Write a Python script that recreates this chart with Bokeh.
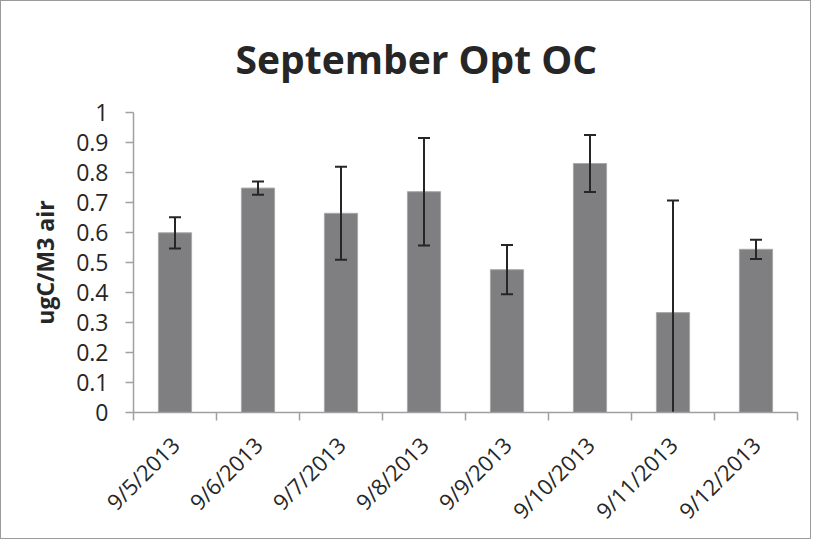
import math
from bokeh.plotting import figure
from bokeh.models import Range1d, FixedTicker, ColumnDataSource
from bokeh.embed import file_html
from bokeh.resources import INLINE

# ---- data ----
dates = ["9/5/2013", "9/6/2013", "9/7/2013", "9/8/2013",
         "9/9/2013", "9/10/2013", "9/11/2013", "9/12/2013"]
oc_values = [0.599, 0.748, 0.664, 0.736, 0.476, 0.830, 0.333, 0.544]
oc_errors = [0.052, 0.022, 0.155, 0.179, 0.082, 0.095, 0.374, 0.032]
y_ticks = [0, 0.1, 0.2, 0.3, 0.4, 0.5, 0.6, 0.7, 0.8, 0.9, 1]
y_tick_labels = ["0", "0.1", "0.2", "0.3", "0.4", "0.5", "0.6", "0.7", "0.8", "0.9", "1"]

n = len(dates)
xs = [i + 0.5 for i in range(n)]
upper = [v + e for v, e in zip(oc_values, oc_errors)]
lower = [v - e for v, e in zip(oc_values, oc_errors)]

src = ColumnDataSource(dict(x=xs, date=dates, top=oc_values, upper=upper, lower=lower))

FONT = "Open Sans"
TEXT = "#262626"
AXIS = "#a0a0a0"

p = figure(frame_width=664, frame_height=300, output_backend="svg",
           toolbar_location=None,
           x_range=Range1d(0, n), y_range=Range1d(0, 1),
           min_border_left=132, min_border_right=13, min_border_top=111,
           min_border_bottom=125)
p.styles = {"border": "1px solid #9a9a9a"}
p.outline_line_color = None
p.xgrid.visible = False
p.ygrid.visible = False

p.title.text = "September Opt OC"
p.title.text_font = FONT
p.title.text_font_size = "39px"
p.title.text_font_style = "bold"
p.title.text_color = TEXT
p.title.align = "left"
p.title.offset = 102
p.title.standoff = 55

# bars
p.vbar(x="x", width=0.4, top="top", bottom=0, source=src,
       fill_color="#7f7f82", line_color="#a8a8a8", line_width=1)
# error bars
p.segment(x0="x", y0="lower", x1="x", y1="upper", source=src,
          line_color=TEXT, line_width=2)
p.scatter(x="x", y="upper", source=src, marker="dash", size=12,
          line_color=TEXT, line_width=2)
p.scatter(x="x", y="lower", source=src, marker="dash", size=12,
          line_color=TEXT, line_width=2)

# x axis: ticks at category edges, labels at centers
xa = p.xaxis[0]
xa.ticker = FixedTicker(ticks=xs, minor_ticks=list(range(n + 1)))
xa.major_label_overrides = {x: d for x, d in zip(xs, dates)}
xa.major_label_orientation = math.pi / 4
xa.major_tick_line_color = None
xa.major_tick_out = 8
xa.minor_tick_line_color = AXIS
xa.minor_tick_line_width = 1.5
xa.minor_tick_out = 8
xa.minor_tick_in = 0
xa.axis_line_color = AXIS
xa.axis_line_width = 1.5
xa.major_label_text_font = FONT
xa.major_label_text_font_size = "22px"
xa.major_label_text_color = TEXT
xa.major_label_standoff = 20

ya = p.yaxis[0]
ya.ticker = FixedTicker(ticks=y_ticks, minor_ticks=[])
ya.major_label_overrides = {t: s for t, s in zip(y_ticks, y_tick_labels)}
ya.major_tick_line_color = AXIS
ya.major_tick_line_width = 1.5
ya.major_tick_out = 8
ya.major_tick_in = 0
ya.minor_tick_line_color = None
ya.axis_line_color = AXIS
ya.axis_line_width = 1.5
ya.major_label_text_font = FONT
ya.major_label_text_font_size = "23px"
ya.major_label_text_color = TEXT
ya.major_label_standoff = 17
ya.axis_label = "ugC/M3 air"
ya.axis_label_text_font = FONT
ya.axis_label_text_font_size = "23px"
ya.axis_label_text_font_style = "bold"
ya.axis_label_text_color = TEXT
ya.axis_label_standoff = 12

open("out.html", "w").write(file_html(p, INLINE))
